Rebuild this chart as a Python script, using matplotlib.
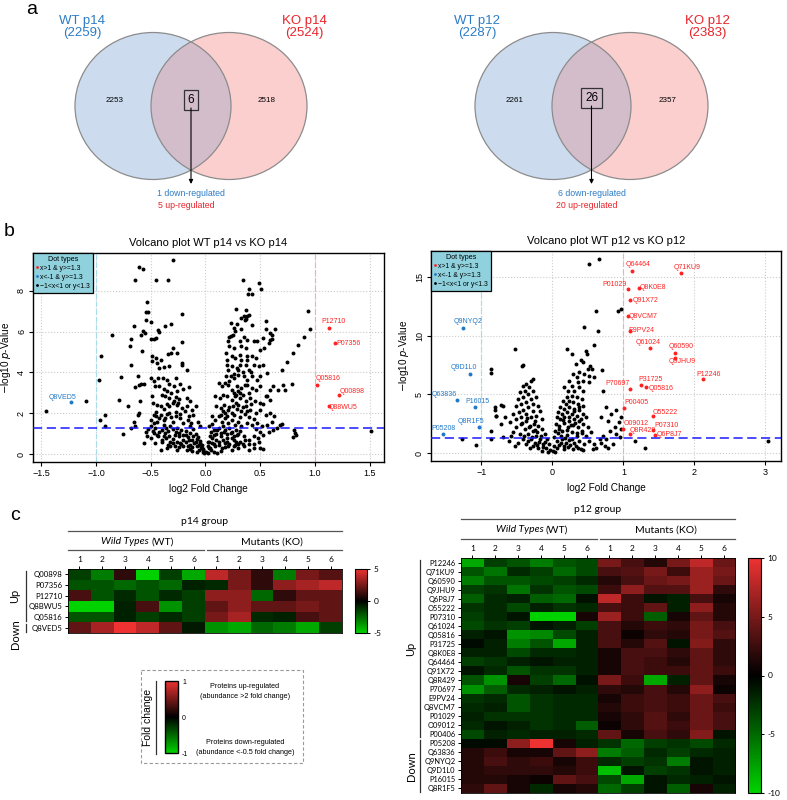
import numpy as np
import matplotlib
matplotlib.use('Agg')
import matplotlib.pyplot as plt
from matplotlib.patches import Ellipse, Rectangle
from matplotlib.colors import LinearSegmentedColormap, Normalize
from matplotlib.cm import ScalarMappable
from matplotlib.lines import Line2D

plt.rcParams['font.family'] = ['Liberation Sans', 'DejaVu Sans']

W, H = 787, 800

# ---------------- data ----------------
# Venn counts
venn14 = dict(wt=2259, ko=2524, wt_only=2253, ko_only=2518, both=6, down=1, up=5)
venn12 = dict(wt=2287, ko=2383, wt_only=2261, ko_only=2357, both=26, down=6, up=20)

# volcano p14: non-significant points (log2FC, -log10 p)
p14_ns = np.array([
    [-1.46, 2.12], [-1.09, 2.61], [-0.97, 3.64], [-0.30, 9.48], [-0.61, 9.15], [-0.57, 9.08],
    [-0.64, 8.51], [-0.45, 8.53], [-0.34, 8.53], [-0.53, 7.42], [-0.54, 6.94], [-0.52, 6.94],
    [-0.54, 6.57], [-0.50, 6.45], [-0.21, 6.86], [-0.31, 6.36], [-0.37, 6.26], [-0.43, 6.09],
    [-0.42, 5.96], [-0.65, 6.26], [-0.57, 6.05], [-0.59, 5.85], [-0.55, 5.93], [-0.47, 5.64],
    [-0.50, 5.64], [-0.45, 5.67], [-0.85, 5.85], [-0.68, 5.64], [-0.69, 5.31], [-0.21, 5.47],
    [-0.30, 5.18], [-0.26, 4.95], [-0.34, 4.92], [-0.31, 4.95], [-0.58, 5.03], [-0.95, 4.82],
    [-0.49, 4.79], [-0.45, 4.69], [-0.41, 4.62], [-0.44, 4.46], [-0.21, 4.46], [-0.21, 4.35],
    [-0.17, 4.10], [-0.68, 4.38], [-0.42, 4.22], [-0.38, 4.26], [-0.33, 4.30], [-0.49, 4.58],
    [-0.77, 3.79], [-0.62, 3.84], [-0.56, 3.43], [-0.61, 3.40], [-0.59, 3.43], [-0.64, 3.28],
    [-0.50, 3.73], [-0.47, 3.59], [-0.43, 3.73], [-0.39, 3.74], [-0.35, 3.61], [-0.27, 3.71],
    [-0.33, 3.42], [-0.29, 3.32], [-0.23, 3.42], [-0.46, 3.32], [-0.42, 3.32], [-0.38, 3.19],
    [-0.35, 3.09], [-0.31, 2.99], [-0.26, 3.07], [-0.20, 3.19], [-0.15, 3.28], [-0.40, 2.89],
    [-0.37, 2.83], [-0.33, 2.75], [-0.27, 2.79], [-0.24, 2.70], [-0.17, 2.75], [-0.14, 2.58],
    [-0.79, 2.66], [-0.71, 2.37], [-0.60, 2.60], [-0.49, 2.86], [-0.48, 2.50], [-0.44, 2.42],
    [-0.41, 2.34], [-0.38, 2.21], [-0.33, 2.34], [-0.30, 2.50], [-0.26, 2.39], [-0.21, 2.25],
    [-0.17, 2.34], [-0.12, 2.17], [-0.09, 2.34], [-0.92, 1.93], [-0.96, 1.68], [-0.92, 1.39],
    [-0.65, 1.57], [-0.62, 1.91], [-0.61, 2.01], [-0.64, 1.39], [-0.68, 1.27], [-0.75, 0.98],
    [-0.54, 1.08], [-0.53, 0.87], [-0.56, 0.57], [-0.50, 1.68], [-0.47, 1.52], [-0.45, 1.85],
    [-0.41, 1.93], [-0.37, 1.76], [-0.33, 2.01], [-0.30, 1.60], [-0.27, 1.85], [-0.23, 1.76],
    [-0.20, 1.52], [-0.16, 1.68], [-0.14, 1.36], [-0.11, 1.93], [-0.07, 1.60], [-0.05, 1.36],
    [-0.47, 1.03], [-0.43, 0.87], [-0.40, 0.62], [-0.37, 1.03], [-0.33, 0.87], [-0.30, 0.54],
    [-0.27, 1.11], [-0.24, 0.87], [-0.23, 0.54], [-0.20, 0.38], [-0.18, 0.95], [-0.15, 0.70],
    [-0.14, 0.46], [-0.11, 0.87], [-0.09, 0.62], [-0.08, 0.38], [-0.06, 0.21], [-0.05, 0.54],
    [-0.03, 0.29], [-0.02, 0.13], [-0.41, 0.21], [-0.35, 0.29], [-0.32, 0.38], [-0.26, 0.21],
    [-0.17, 0.21], [-0.12, 0.18], [-0.08, 0.13], [-0.01, 0.05], [-0.02, 0.21], [-0.46, 0.57],
    [-0.50, 0.78], [-0.40, 1.20], [-0.38, 1.45], [-0.36, 1.30], [-0.34, 1.15], [-0.32, 1.40],
    [-0.30, 1.25], [-0.28, 0.95], [-0.26, 1.30], [-0.24, 1.05], [-0.22, 1.20], [-0.20, 0.95],
    [-0.18, 1.15], [-0.16, 0.85], [-0.14, 1.05], [-0.12, 0.70], [-0.10, 0.55], [-0.08, 0.75],
    [-0.06, 0.45], [-0.05, 0.65], [-0.04, 0.35], [-0.03, 0.45], [-0.02, 0.25], [-0.12, 0.35],
    [-0.14, 0.25], [-0.16, 0.40], [-0.18, 0.60], [-0.20, 0.70], [-0.22, 0.50], [-0.24, 0.35],
    [-0.26, 0.60], [-0.28, 0.40], [-0.30, 0.75], [-0.32, 0.60], [-0.34, 0.45], [-0.36, 0.80],
    [-0.38, 0.90], [-0.40, 0.70], [-0.42, 1.10], [-0.44, 0.95], [-0.46, 1.30], [-0.48, 1.15],
    [-0.50, 1.40], [-0.52, 1.25], [-0.44, 1.60], [-0.42, 1.75], [-0.38, 1.65], [-0.35, 1.95],
    [-0.31, 1.80], [-0.27, 2.05], [-0.23, 1.95], [-0.19, 2.10], [-0.15, 1.85], [-0.13, 1.55],
    [-0.11, 1.25], [-0.09, 1.00], [-0.07, 0.85], [-0.25, 2.50], [-0.29, 2.60], [-0.35, 2.45],
    [-0.45, 2.05], [-0.47, 1.90],
    [0.34, 8.51], [0.49, 8.38], [0.51, 8.10], [0.40, 8.09], [0.39, 7.84], [0.43, 7.84],
    [0.28, 7.08], [0.37, 7.03], [0.35, 6.78], [0.38, 6.75], [0.33, 6.67], [0.36, 6.58],
    [0.40, 6.83], [0.37, 6.63], [0.55, 6.50], [0.23, 6.42], [0.29, 6.39], [0.33, 6.14],
    [0.43, 6.31], [0.26, 6.18], [0.55, 6.14], [0.64, 6.14], [0.59, 5.93], [0.61, 5.82],
    [0.61, 5.65], [0.59, 5.60], [0.22, 5.74], [0.23, 5.80], [0.25, 5.85], [0.27, 6.01],
    [0.35, 5.74], [0.38, 5.60], [0.44, 5.52], [0.47, 5.52], [0.21, 5.52], [0.22, 5.28],
    [0.26, 5.20], [0.32, 5.52], [0.33, 5.28], [0.37, 5.20], [0.53, 5.69], [0.58, 5.44],
    [0.54, 5.20], [0.50, 5.11], [0.94, 6.99], [0.96, 6.14], [0.90, 5.74], [0.85, 5.36],
    [0.80, 4.95], [0.75, 4.51], [0.70, 4.13], [0.79, 3.43], [0.71, 3.40], [0.62, 3.32],
    [0.59, 3.15], [0.56, 2.86], [0.66, 3.15], [0.73, 3.15], [0.19, 4.95], [0.20, 4.62],
    [0.24, 4.79], [0.27, 4.71], [0.32, 4.87], [0.33, 4.62], [0.38, 4.79], [0.43, 4.79],
    [0.46, 4.71], [0.20, 4.38], [0.21, 4.13], [0.24, 4.30], [0.29, 4.22], [0.32, 4.38],
    [0.37, 4.38], [0.40, 4.13], [0.44, 4.38], [0.49, 4.30], [0.53, 4.38], [0.19, 3.81],
    [0.23, 3.84], [0.26, 3.73], [0.30, 3.89], [0.35, 3.81], [0.38, 3.64], [0.43, 3.84],
    [0.47, 3.64], [0.50, 3.81], [0.56, 3.97], [0.12, 3.48], [0.15, 3.32], [0.18, 3.48],
    [0.21, 3.40], [0.24, 3.15], [0.29, 3.32], [0.33, 3.24], [0.38, 3.40], [0.43, 3.24],
    [0.46, 3.15], [0.50, 3.32], [0.55, 2.83], [0.59, 2.66], [0.09, 2.83], [0.13, 2.75],
    [0.16, 2.91], [0.20, 2.83], [0.24, 2.66], [0.27, 2.83], [0.32, 2.75], [0.37, 2.58],
    [0.41, 2.75], [0.45, 2.58], [0.50, 2.50], [0.53, 2.47], [0.10, 2.34], [0.14, 2.25],
    [0.17, 2.42], [0.21, 2.17], [0.25, 2.34], [0.29, 2.21], [0.33, 2.09], [0.37, 2.34],
    [0.41, 2.17], [0.46, 2.01], [0.50, 2.17], [0.55, 1.93], [0.59, 2.01], [0.63, 1.85],
    [0.68, 1.44], [0.70, 1.47], [0.06, 1.85], [0.09, 1.68], [0.12, 1.85], [0.15, 1.60],
    [0.18, 1.76], [0.21, 1.52], [0.24, 1.68], [0.27, 1.44], [0.30, 1.60], [0.33, 1.36],
    [0.38, 1.52], [0.43, 1.44], [0.47, 1.52], [0.52, 1.36], [0.56, 1.44], [0.61, 1.60],
    [0.65, 1.27], [0.03, 1.36], [0.05, 1.11], [0.08, 0.95], [0.11, 1.19], [0.14, 0.87],
    [0.17, 1.11], [0.20, 0.78], [0.23, 1.03], [0.26, 0.70], [0.29, 0.95], [0.32, 0.62],
    [0.35, 0.87], [0.40, 0.70], [0.44, 0.87], [0.49, 0.62], [0.53, 0.95], [0.58, 1.11],
    [0.62, 1.19], [0.81, 1.19], [0.82, 1.03], [0.83, 0.95], [0.80, 0.83], [0.02, 0.38],
    [0.03, 0.62], [0.05, 0.21], [0.06, 0.54], [0.09, 0.38], [0.12, 0.62], [0.15, 0.29],
    [0.18, 0.54], [0.21, 0.38], [0.24, 0.21], [0.27, 0.46], [0.30, 0.29], [0.35, 0.38],
    [0.40, 0.21], [0.44, 0.29], [0.50, 0.29], [0.53, 0.25], [0.01, 0.13], [0.02, 0.05],
    [0.04, 0.29], [0.08, 0.13], [0.11, 0.08], [0.14, 0.16], [0.06, 1.50], [0.08, 1.20],
    [0.10, 1.00], [0.12, 1.30], [0.14, 1.05], [0.16, 1.40], [0.18, 1.20], [0.20, 1.00],
    [0.22, 1.30], [0.24, 1.10], [0.26, 0.90], [0.28, 1.20], [0.30, 1.00], [0.32, 1.15],
    [0.14, 1.90], [0.16, 2.10], [0.18, 2.00], [0.20, 1.85], [0.22, 2.30], [0.24, 2.00],
    [0.26, 1.90], [0.28, 2.50], [0.30, 2.40], [0.32, 1.80], [0.34, 2.30], [0.36, 1.95],
    [0.38, 2.10], [0.40, 1.80], [0.42, 2.45], [0.44, 1.70], [0.26, 3.00], [0.28, 2.90],
    [0.30, 3.10], [0.32, 3.00], [0.34, 2.90], [0.36, 3.40], [0.40, 3.00], [0.22, 3.60],
    [0.26, 3.90], [0.30, 4.10], [0.34, 4.00], [0.38, 4.60], [0.42, 4.00], [0.06, 0.80],
    [0.08, 0.50], [0.10, 0.70], [0.12, 0.45], [0.16, 0.70], [0.18, 0.35], [0.20, 0.60],
    [0.22, 0.50], [0.24, 0.80], [0.26, 0.40], [0.28, 0.60], [0.30, 0.50], [0.34, 0.50],
    [0.36, 0.70], [0.40, 0.50], [0.44, 0.50], [0.48, 0.80], [0.50, 1.10], [0.46, 1.25],
    [0.04, 0.90], [0.02, 0.60], [0.03, 0.30], [1.51, 1.14],
])
p14_up_ids = ['P12710', 'P07356', 'Q05816', 'Q00898', 'Q88WU5']
p14_up = np.array([[1.13, 6.18], [1.18, 5.42], [1.02, 3.40], [1.22, 2.88], [1.13, 2.35]])
p14_dn_ids = ['Q8VED5']
p14_dn = np.array([[-1.23, 2.55]])

# volcano p12
p12_ns = np.array([
    [0.66, 16.52], [0.51, 16.07], [0.61, 12.08], [0.92, 12.08], [0.96, 12.25], [0.44, 10.74],
    [0.64, 10.37], [0.59, 9.17], [0.20, 8.89], [-0.53, 8.89], [0.47, 8.66], [0.49, 8.46],
    [0.27, 8.46], [0.70, 7.04], [-0.43, 7.46], [-0.86, 7.18], [-0.87, 6.81], [0.40, 7.89],
    [0.43, 7.75], [0.33, 7.61], [0.50, 7.18], [0.53, 7.46], [0.56, 7.18], [0.38, 6.89],
    [0.45, 6.75], [0.52, 6.61], [0.58, 6.47], [0.29, 6.70], [0.34, 6.47], [0.24, 6.18],
    [0.43, 6.18], [0.52, 6.04], [0.36, 6.04], [0.27, 5.75], [0.17, 5.61], [0.22, 5.33],
    [0.31, 5.33], [0.38, 5.61], [0.43, 5.33], [0.28, 4.90], [0.20, 4.76], [0.24, 4.47],
    [0.34, 4.76], [0.41, 4.62], [0.15, 4.47], [0.19, 4.19], [0.29, 4.33], [0.36, 4.19],
    [0.43, 4.05], [0.11, 3.90], [0.17, 3.76], [0.23, 3.90], [0.31, 3.76], [0.38, 3.68],
    [0.08, 3.48], [0.14, 3.33], [0.21, 3.48], [0.27, 3.33], [0.34, 3.19], [0.43, 3.33],
    [0.06, 3.05], [0.11, 2.91], [0.17, 3.05], [0.24, 2.76], [0.31, 2.91], [0.38, 2.76],
    [0.48, 3.05], [0.05, 2.48], [0.10, 2.34], [0.16, 2.54], [0.22, 2.25], [0.29, 2.42],
    [0.36, 2.19], [0.43, 2.48], [0.50, 2.19], [0.03, 1.91], [0.08, 1.68], [0.14, 1.91],
    [0.20, 1.57], [0.27, 1.77], [0.34, 1.48], [0.41, 1.68], [0.48, 1.45], [0.55, 1.77],
    [0.02, 1.34], [0.07, 1.05], [0.13, 1.20], [0.19, 0.91], [0.24, 1.11], [0.31, 0.83],
    [0.38, 1.05], [0.45, 0.77], [0.52, 1.00], [0.59, 0.77], [0.02, 0.63], [0.06, 0.43],
    [0.10, 0.71], [0.16, 0.34], [0.22, 0.54], [0.29, 0.34], [0.36, 0.48], [0.43, 0.26],
    [0.01, 0.20], [0.04, 0.11], [0.71, 5.33], [0.76, 3.90], [0.69, 3.05], [0.78, 2.76],
    [0.83, 3.33], [0.90, 3.68], [0.97, 3.05], [0.88, 2.19], [0.94, 2.62], [0.81, 1.91],
    [0.71, 1.48], [0.67, 1.20], [0.76, 1.20], [0.90, 1.62], [0.95, 1.34], [0.97, 2.05],
    [0.85, 0.77], [0.62, 0.48], [1.16, 1.05], [1.30, 0.48], [0.69, 0.91], [0.74, 0.63],
    [0.78, 0.43], [0.57, 0.34],
    [-0.27, 6.32], [-0.30, 6.13], [-0.37, 5.90], [-0.41, 5.75], [-0.33, 5.61], [-0.39, 5.33],
    [-0.46, 5.19], [-0.27, 5.33], [-0.34, 5.04], [-0.41, 4.76], [-0.48, 4.62], [-0.30, 4.62],
    [-0.23, 4.76], [-0.37, 4.33], [-0.44, 4.19], [-0.51, 4.05], [-0.27, 4.19], [-0.20, 4.05],
    [-0.34, 3.90], [-0.41, 3.68], [-0.47, 3.48], [-0.27, 3.62], [-0.18, 3.62], [-0.55, 3.33],
    [-0.37, 3.33], [-0.30, 3.11], [-0.23, 3.19], [-0.44, 3.05], [-0.51, 2.91], [-0.37, 2.76],
    [-0.25, 2.71], [-0.15, 2.91], [-0.60, 2.62], [-0.44, 2.48], [-0.32, 2.34], [-0.20, 2.34],
    [-0.51, 2.19], [-0.39, 2.05], [-0.27, 1.91], [-0.15, 2.05], [-0.55, 1.77], [-0.46, 1.62],
    [-0.34, 1.62], [-0.23, 1.48], [-0.11, 1.62], [-0.41, 1.20], [-0.30, 1.20], [-0.18, 1.20],
    [-0.08, 1.20], [-0.48, 0.91], [-0.37, 0.77], [-0.25, 0.83], [-0.13, 0.77], [-0.05, 0.77],
    [-0.32, 0.43], [-0.20, 0.48], [-0.09, 0.43], [-0.03, 0.26], [-0.15, 0.20], [-0.06, 0.11],
    [-0.69, 4.05], [-0.81, 3.90], [-0.80, 3.19], [-0.67, 3.05], [-0.72, 2.48], [-0.87, 1.91],
    [-0.86, 1.25], [-0.69, 1.34], [-0.58, 1.48], [-0.61, 1.00], [-0.53, 0.63], [-1.28, 1.25],
    [-1.08, 0.68], [-0.81, 3.70], [-0.80, 3.20], [-0.72, 4.10], [-0.42, 7.52],
    [-0.36, 3.00], [-0.33, 2.20], [-0.29, 1.40], [-0.26, 2.50], [-0.22, 1.80], [-0.19, 0.95],
    [-0.16, 1.45], [-0.13, 0.50], [-0.10, 0.95], [-0.40, 1.50], [-0.43, 2.60], [-0.35, 1.00],
    [-0.28, 0.60], [-0.24, 2.00], [-0.21, 0.70], [0.09, 2.10], [0.12, 1.50], [0.15, 2.80],
    [0.18, 1.30], [0.21, 2.00], [0.23, 3.10], [0.26, 2.40], [0.28, 1.20], [0.30, 3.60],
    [0.32, 2.60], [0.35, 1.70], [0.37, 3.90], [0.40, 2.90], [0.42, 1.90], [0.12, 0.90],
    [0.17, 0.60], [0.25, 0.70], [0.33, 0.60], [0.40, 0.40], [3.04, 1.05],
])
p12_up_ids = ['Q64464', 'Q71KU9', 'P01029', 'Q8K0E8', 'Q91X72', 'Q8VCM7', 'E9PV24',
              'Q61024', 'Q60590', 'Q9JHU9', 'P12246', 'P31725', 'Q05816', 'P70697',
              'P00405', 'O55222', 'O09012', 'Q8R429', 'P07310', 'Q6P8J7']
p12_up = np.array([[1.12, 15.50], [1.81, 15.36], [1.06, 13.93], [1.22, 14.02], [1.10, 13.05],
                   [1.06, 11.65], [1.10, 10.40], [1.37, 8.97], [1.73, 8.55], [1.72, 8.12],
                   [2.12, 6.35], [1.25, 5.84], [1.32, 5.67], [1.10, 5.50], [1.01, 3.87],
                   [1.41, 3.16], [1.00, 2.05], [1.10, 1.62], [1.41, 1.97], [1.44, 1.54]])
p12_dn_ids = ['Q9NYQ2', 'Q9D1L0', 'Q63836', 'P16015', 'Q8R1F5', 'P05208']
p12_dn = np.array([[-1.26, 10.68], [-1.16, 6.75], [-1.35, 4.50], [-1.09, 3.96],
                   [-1.04, 2.25], [-1.54, 1.60]])

# heatmap p14 (WT1-6, KO1-6)
hm14_ids = ['Q00898', 'P07356', 'P12710', 'Q8BWU5', 'Q05816', 'Q8VED5']
hm14_vals = np.array([
    [-1.5, -3.0, 1.0, -5.0, -1.5, -4.0, 4.0, 2.5, 1.0, -3.0, 2.5, 1.8],
    [-2.0, -2.0, -2.5, -2.0, -2.5, -0.8, -1.0, 2.5, 1.0, 3.0, 3.5, 4.0],
    [1.5, -2.0, -1.0, -2.0, -1.0, -1.5, 3.0, 3.0, -2.5, 1.0, 2.0, 2.0],
    [-5.0, -5.0, -0.8, 1.5, -3.5, -1.5, 2.0, 3.0, 2.0, 2.0, 2.5, 2.0],
    [-2.0, -2.0, -0.8, -1.5, -1.0, -1.5, 2.5, 3.5, -1.0, -0.8, 1.5, 2.0],
    [2.0, 3.5, 5.0, 4.0, 2.0, -0.6, -3.5, -4.0, -2.5, -3.0, -4.0, -1.5],
])
hm14_groups = [('Up', 5), ('Down', 1)]

hm12_ids = ['P12246', 'Q71KU9', 'Q60590', 'Q9JHU9', 'Q6P8J7', 'O55222', 'P07310', 'Q61024',
            'Q05816', 'P31725', 'Q8K0E8', 'Q64464', 'Q91X72', 'Q8R429', 'P70697', 'E9PV24',
            'Q8VCM7', 'P01029', 'O09012', 'P00406', 'P05208', 'Q63836', 'Q9NYQ2', 'Q9D1L0',
            'P16015', 'Q8R1F5']
hm12_vals = np.array([
    [-8, -3, -4, -6, -4, -3.5, 5, 3, 1.5, 5, 8, 4.5],
    [-4, -5.5, -2, -3, -5, -3.5, 3, 3.5, 5, 2.5, 6.5, 5],
    [-6, -4, -4, -3.5, -3, -2, 1.5, 3, 4.5, 5, 6.5, 4.5],
    [-3, -2.5, -5.5, -2.5, -4, -3.5, 2.5, 6, 3.5, 3.5, 6.5, 2],
    [-4.5, -2, -1.5, -4.5, -5, -0.8, 8, 2.5, -1, -1.5, 3, 1],
    [-2.5, -2, -3.5, -1.5, -2.5, -2, 3, 2.5, 4, -1.5, 6, 1.5],
    [-3, -2, -1, -10, -10, 1, 6.5, 2.5, -4.5, 1, 4, 1.5],
    [-3.5, -2.5, -3, -1, -1.5, -3, 3, 1.5, 2.5, 2, 5, 3],
    [-1.5, -1, -7, -6.5, -3.5, -1.5, 3, 0.5, 2, 1.5, 5, 3.5],
    [-0.5, -1.5, -6, -4, -8, -1.5, 3, 1.5, 3.5, -1, 5.5, 2],
    [-1.5, -1.5, -3.5, -2, -2, -1.5, 1, 3, 3, 2, 4, 2],
    [-3, -2.5, -1.5, -1, -1.5, -1.5, 1, 3, 2.5, 1.5, 4, 2],
    [-1, -2, -4, -2.5, -2.5, -1.5, 1, 3, 2.5, 2.5, 4, 2.5],
    [-4, -7, 1, -3, -5, -0.8, 5, 2.5, -8, -1.5, 4, 1],
    [-7, -4.5, -2, -1.5, -1, -1.5, 2, 1.5, 3, 1.5, 6, 0.5],
    [-2.5, -2, -4, -2.5, -2, -2, 1, 2.5, 3, 2.5, 4.5, 3],
    [-2, -1.5, -4, -2.5, -2, -2, 1.5, 2.5, 3, 2.5, 4.5, 2.5],
    [-1.5, -2.5, -2.5, -2.5, -2, -2, 1, 2, 3.5, 2, 4.5, 3],
    [-2, -1, -1.5, -2.5, -2, -4.5, 0.5, 2, 3.5, 2.5, 4.5, 3],
    [-3.5, -1.5, -2, -1.5, -1.5, -2, 4, 1, 3, 2, 5.5, -1],
    [-0.5, -0.5, 6, 10, 1, -1.5, -2.5, -5, -3, -2.5, -3.5, -2],
    [1.5, 2.5, 1, 1, 4, 6, -6, -4.5, -2, -3, -2, -1.5],
    [1.5, 3, 2, 2.5, 1, 2.5, -2, -3, -2.5, -6, -1, -1.5],
    [1.5, 2, 2, 2, 1.5, 2.5, -9, -1, -3, -2.5, -1, -1.5],
    [1.5, 1.5, 1, 0.5, 4, 3, -3.5, -8, -1, -2, -1.5, -1],
    [2, 4, 1, -2, 1, 1.5, -5, -3, -1, -4.5, 1, -1.5],
])
hm12_groups = [('Up', 20), ('Down', 6)]
replicates = [1, 2, 3, 4, 5, 6]

# ---------------- styles ----------------
BLUE_T = '#2c7cc6'
RED_T = '#e8242a'
RED_P = '#ff2222'
BLUE_P = '#1f78c8'
cmap = LinearSegmentedColormap.from_list('gkr', ['#00d200', '#000000', '#ee3232'])

# label offsets (pixels) for volcano annotations
lab_off = {
    'P12710': (4, 6), 'P07356': (14, 0), 'Q05816_14': (11, 6), 'Q00898': (13, 4),
    'Q88WU5': (14, -1), 'Q8VED5': (-8, 5),
    'Q64464': (6, 6), 'Q71KU9': (6, 5), 'P01029': (-13, 5), 'Q8K0E8': (14, 1),
    'Q91X72': (15, -1), 'Q8VCM7': (15, 0), 'E9PV24': (11, 0), 'Q61024': (-2, 5),
    'Q60590': (6, 6), 'Q9JHU9': (8, -4), 'P12246': (6, 4), 'P31725': (9, 5),
    'Q05816': (15, -2), 'P70697': (-13, 5), 'P00405': (12, 5), 'O55222': (13, 4),
    'O09012': (13, 6), 'Q8R429': (12, 4), 'P07310': (14, 5), 'Q6P8J7': (15, 1),
    'Q9NYQ2': (5, 6), 'Q9D1L0': (-6, 6), 'Q63836': (-12, 6), 'P16015': (2, 5),
    'Q8R1F5': (-8, 5), 'P05208': (0, 6),
}

fig = plt.figure(figsize=(W / 100, H / 100), dpi=100)


def px_axes(l, t, r, b):
    return fig.add_axes([l / W, 1 - b / H, (r - l) / W, (b - t) / H])


ov = fig.add_axes([0, 0, 1, 1])
ov.set_xlim(0, W)
ov.set_ylim(H, 0)
ov.axis('off')

# ---------------- panel a: Venn ----------------
def venn(cx1, cx2, cy, d, tag, wt_x, ko_x, box_y):
    ew, eh = 156, 147
    a = Ellipse((cx1, cy), ew, eh, fc='#ccdcee', ec='none')
    b = Ellipse((cx2, cy), ew, eh, fc='#fccfcf', ec='none')
    ov.add_patch(a)
    ov.add_patch(b)
    mid = Ellipse((cx2, cy), ew, eh, fc='#d3bdca', ec='none')
    ov.add_patch(mid)
    mid.set_clip_path(a)
    for c in (cx1, cx2):
        ov.add_patch(Ellipse((c, cy), ew, eh, fc='none', ec='#8c8c8c', lw=0.9))
    ov.text(wt_x, 27, f'WT {tag}\n({d["wt"]})', color=BLUE_T, fontsize=9.5,
            ha='center', va='center', linespacing=1.05)
    ov.text(ko_x, 27, f'KO {tag}\n({d["ko"]})', color=RED_T, fontsize=9.5,
            ha='center', va='center', linespacing=1.05)
    ov.text(cx1 - 38, cy - 5, str(d['wt_only']), fontsize=5.8, ha='center', va='center')
    ov.text(cx2 + 38, cy - 5, str(d['ko_only']), fontsize=5.8, ha='center', va='center')
    mx = (cx1 + cx2) / 2
    ov.text(mx, box_y, str(d['both']), fontsize=8.5, ha='center', va='center',
            bbox=dict(boxstyle='square,pad=0.35', fc='none', ec='#333333', lw=0.9))
    ov.annotate('', xy=(mx, 184), xytext=(mx, box_y + 8),
                arrowprops=dict(arrowstyle='-|>', color='black', lw=0.8, mutation_scale=6,
                                shrinkA=0, shrinkB=0))
    ov.text(mx, 194, f'{d["down"]} down-regulated', color=BLUE_T, fontsize=6.3,
            ha='center', va='center')
    ov.text(mx - 5, 205, f'{d["up"]} up-regulated', color=RED_T, fontsize=6.3,
            ha='center', va='center')


venn(153, 229, 106, venn14, 'p14', 82, 304, 100)
venn(553, 630, 106, venn12, 'p12', 477, 707, 98)

ov.text(32, 10, 'a', fontsize=14, ha='center', va='center')
ov.text(9, 232, 'b', fontsize=14, ha='center', va='center')
ov.text(15, 515, 'c', fontsize=14, ha='center', va='center')

# ---------------- panel b: volcano plots ----------------
def volcano(rect, ns, up, up_ids, dn, dn_ids, title, xt, xtl, yt, xlim, ylim, tagfix=None):
    ax = px_axes(*rect)
    ax.set_axisbelow(True)
    for v in xt:
        ax.axvline(v, color='#cccccc', ls=':', lw=0.8, zorder=0)
    for v in yt:
        ax.axhline(v, color='#cccccc', ls=':', lw=0.8, zorder=0)
    ax.axvline(-1, color='#a9dcea', ls=(0, (5, 2)), lw=0.8, zorder=1)
    ax.axvline(1, color='#ffaaaa', ls=(0, (5, 2)), lw=0.8, zorder=1)
    ax.scatter(ns[:, 0], ns[:, 1], s=8, c='black', lw=0, zorder=3)
    ax.scatter(up[:, 0], up[:, 1], s=8, c=RED_P, lw=0, zorder=4)
    ax.scatter(dn[:, 0], dn[:, 1], s=8, c=BLUE_P, lw=0, zorder=4)
    ax.axhline(1.3, color='#1a1aff', ls=(0, (6, 3)), lw=1.1, zorder=5)
    for ids, pts, col in ((up_ids, up, RED_P), (dn_ids, dn, BLUE_P)):
        for name, (x, y) in zip(ids, pts):
            key = name
            if tagfix and name in tagfix:
                key = tagfix[name]
            ax.annotate(name, (x, y), xytext=lab_off[key], textcoords='offset pixels',
                        color=col, fontsize=5, ha='center', va='center', zorder=6)
    ax.set_xlim(*xlim)
    ax.set_ylim(*ylim)
    ax.set_xticks(xt)
    ax.set_xticklabels(xtl)
    ax.set_yticks(yt)
    ax.tick_params(labelsize=6.5, length=3, width=0.8, pad=2)
    for lab in ax.get_yticklabels():
        lab.set_rotation(90)
        lab.set_va('center')
    for s in ax.spines.values():
        s.set_linewidth(1.0)
    ax.set_title(title, fontsize=8, pad=5)
    ax.set_xlabel('log2 Fold Change', fontsize=7.2, labelpad=4)
    ax.set_ylabel(r'$-$log10 $\it{p}$-Value', fontsize=7.2, labelpad=3)
    handles = [Line2D([], [], ls='none', marker='o', ms=2, color=c, mec='none')
               for c in (RED_P, BLUE_P, 'black')]
    leg = ax.legend(handles, ['x>1 & y>=1.3', 'x<-1 & y>=1.3', '\u22121<x<1 or y<1.3'],
                    title='Dot types', loc='upper left', bbox_to_anchor=(0, 1),
                    borderaxespad=0, fontsize=4.9, title_fontsize=5.1, frameon=True,
                    fancybox=False, facecolor='#8fd1dd', edgecolor='black', framealpha=1,
                    handlelength=0.4, handletextpad=0.3, borderpad=0.4, labelspacing=0.3)
    leg.get_frame().set_linewidth(0.9)
    leg.set_zorder(10)
    return ax


volcano((33, 253, 384, 462), p14_ns, p14_up, p14_up_ids, p14_dn, p14_dn_ids,
        'Volcano plot WT p14 vs KO p14', [-1.5, -1.0, -0.5, 0.0, 0.5, 1.0, 1.5],
        ['\u22121.5', '\u22121.0', '\u22120.5', '0.0', '0.5', '1.0', '1.5'],
        [0, 2, 4, 6, 8], (-1.575, 1.632), (-0.38, 9.84), tagfix={'Q05816': 'Q05816_14'})
volcano((431, 251, 781, 461), p12_ns, p12_up, p12_up_ids, p12_dn, p12_dn_ids,
        'Volcano plot WT p12 vs KO p12', [-1, 0, 1, 2, 3],
        ['\u22121', '0', '1', '2', '3'],
        [0, 5, 10, 15], (-1.71, 3.22), (-0.66, 17.2))

# ---------------- panel c: heatmaps ----------------
def heatmap(rect, cbrect, vals, ids, vmax, fs, cticks):
    ax = px_axes(*rect)
    im = ax.imshow(vals, cmap=cmap, vmin=-vmax, vmax=vmax, aspect='auto',
                   interpolation='nearest')
    ax.set_yticks(range(len(ids)))
    ax.set_yticklabels(ids, fontsize=fs, family='Lato')
    ax.xaxis.tick_top()
    ax.set_xticks(range(12))
    ax.set_xticklabels(replicates + replicates, fontsize=6, family='Lato')
    ax.tick_params(length=2.5, width=0.7, pad=1.5)
    for s in ax.spines.values():
        s.set_linewidth(0.6)
    cax = px_axes(*cbrect)
    cb = fig.colorbar(im, cax=cax, ticks=cticks)
    cb.ax.tick_params(labelsize=6, length=2.5, width=0.7, pad=2)
    cb.ax.set_yticklabels([str(t) for t in cticks], family='Lato')
    cb.outline.set_linewidth(0.8)
    return ax


heatmap((68, 569, 342, 633), (355, 569, 367, 633), hm14_vals, hm14_ids, 5, 5.6, [5, 0, -5])
heatmap((461, 558, 735, 793), (748, 558, 761, 793), hm12_vals, hm12_ids, 10, 5.4,
        [10, 5, 0, -5, -10])

# header lines / titles for heatmaps
def header(x0, x1, ytitle, yline1, ysub, yline2, title, wt_right, ko_x):
    xm = (x0 + x1) / 2
    ov.text(xm, ytitle, title, fontsize=7.5, ha='center', va='center', family='Lato')
    ov.plot([x0, x1], [yline1, yline1], color='#555555', lw=0.9)
    ov.text(wt_right, ysub, 'Wild Types', fontsize=7.5, ha='right', va='center',
            family='Lato', style='italic')
    ov.text(wt_right + 2, ysub, '(WT)', fontsize=7.5, ha='left', va='center', family='Lato')
    ov.text(ko_x, ysub, 'Mutants (KO)', fontsize=7.5, ha='center', va='center', family='Lato')
    ov.plot([x0, xm - 1.5], [yline2, yline2], color='#555555', lw=0.9)
    ov.plot([xm + 1.5, x1], [yline2, yline2], color='#555555', lw=0.9)


header(68, 342, 521, 531, 542, 550, 'p14 group', 149, 272)
header(461, 735, 510, 519, 530, 539, 'p12 group', 544, 666)


def groups(x_line, x_text, top, row_h, grp):
    y = top
    for name, n in grp:
        y0, y1 = y + 1.5, y + n * row_h - 1.5
        ov.plot([x_line, x_line], [y0, y1], color='#333333', lw=0.9)
        ov.text(x_text, (y0 + y1) / 2 + (6 if n == 1 else 0), name, rotation=90,
                fontsize=8, ha='center', va='center', family='Lato')
        y += n * row_h


groups(26, 15, 569, 64 / 6, hm14_groups)
groups(420, 411, 558, 235 / 26, hm12_groups)

# fold-change legend box
ov.add_patch(Rectangle((141, 670), 162, 93, fc='none', ec='#999999', lw=0.8, ls=(0, (3, 2))))
ov.text(148, 717, 'Fold change', rotation=90, fontsize=7.5, ha='center', va='center')
ov.plot([156, 156], [681, 754], color='#333333', lw=0.9)
lcax = px_axes(165, 681, 178, 753)
lcb = fig.colorbar(ScalarMappable(norm=Normalize(-1, 1), cmap=cmap), cax=lcax, ticks=[1, 0, -1])
lcb.ax.tick_params(labelsize=5, length=0, pad=3)
lcb.ax.set_yticklabels(['1', '0', '-1'])
lcb.outline.set_linewidth(1.0)
ov.text(245, 686, 'Proteins up-regulated', fontsize=5.2, ha='center', va='center')
ov.text(245, 696, '(abundance >2 fold change)', fontsize=5.2, ha='center', va='center')
ov.text(245, 743, 'Proteins down-regulated', fontsize=5.2, ha='center', va='center')
ov.text(245, 753, '(abundance <-0.5 fold change)', fontsize=5.2, ha='center', va='center')

fig.savefig('out.png', dpi=100)
